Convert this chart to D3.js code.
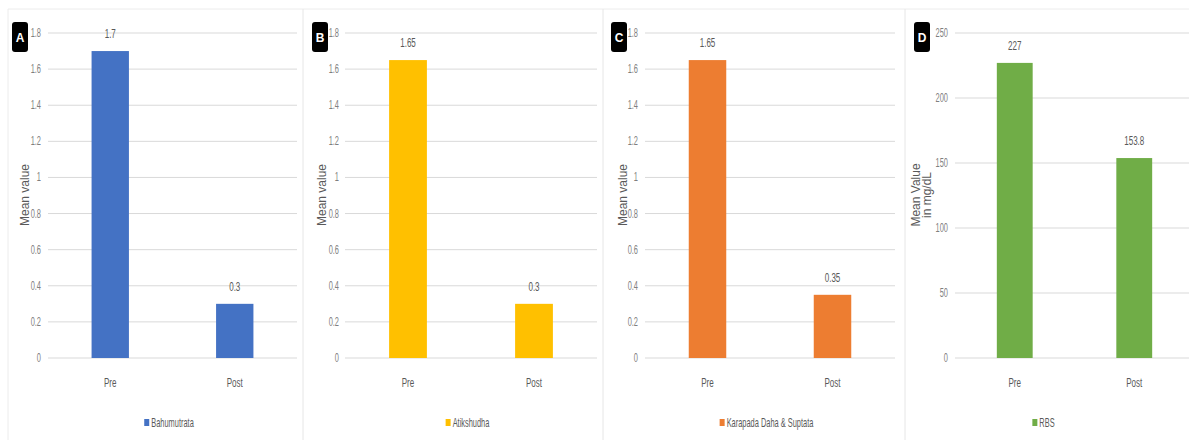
<!DOCTYPE html>
<html>
<head>
<meta charset="utf-8">
<script src="https://cdn.jsdelivr.net/npm/d3@7"></script>
<style>
  body { margin: 0; background: #fff; }
  svg { display: block; font-family: "Liberation Sans", Arial, sans-serif; }
</style>
</head>
<body>
<svg id="chart" width="1189" height="445"></svg>
<script>
// data
const categories = ["Pre", "Post"];
const panelLetters = ["A", "B", "C", "D"];
const seriesNames = ["Bahumutrata", "Atikshudha", "Karapada Daha & Suptata", "RBS"];
const valuesA = [1.7, 0.3];
const valuesB = [1.65, 0.3];
const valuesC = [1.65, 0.35];
const valuesD = [227, 153.8];
const ticksSmall = [0, 0.2, 0.4, 0.6, 0.8, 1, 1.2, 1.4, 1.6, 1.8];
const ticksRbs = [0, 50, 100, 150, 200, 250];
const labelsA = ["1.7", "0.3"];
const labelsB = ["1.65", "0.3"];
const labelsC = ["1.65", "0.35"];
const labelsD = ["227", "153.8"];
const yTitles = [["Mean value"], ["Mean value"], ["Mean value"], ["Mean Value", "in mg/dL"]];
const colors = ["#4472c4", "#ffc000", "#ed7d31", "#70ad47"];

const svg = d3.select("#chart");
const plotTop = 33, plotBottom = 358;
const narrow = "scale(0.62,1)";

// frame lines
svg.append("line").attr("x1", 8).attr("x2", 1189).attr("y1", 9).attr("y2", 9)
  .attr("stroke", "#ececec");
svg.append("line").attr("x1", 8).attr("x2", 8).attr("y1", 9).attr("y2", 440)
  .attr("stroke", "#ececec");
[303, 603, 905].forEach(x => {
  svg.append("line").attr("x1", x).attr("x2", x).attr("y1", 9).attr("y2", 440)
    .attr("stroke", "#e6e6e6");
});

const panels = [
  { x0: 48, x1: 297, tickX: 41, titleX: 25, boxX: 12, values: valuesA, labels: labelsA, ticks: ticksSmall, max: 1.8 },
  { x0: 345, x1: 597, tickX: 339, titleX: 322, boxX: 312, values: valuesB, labels: labelsB, ticks: ticksSmall, max: 1.8 },
  { x0: 645, x1: 895, tickX: 638, titleX: 623, boxX: 611, values: valuesC, labels: labelsC, ticks: ticksSmall, max: 1.8 },
  { x0: 955, x1: 1194, tickX: 948, titleX: 920, boxX: 914, values: valuesD, labels: labelsD, ticks: ticksRbs, max: 250 }
];

panels.forEach((p, i) => {
  const g = svg.append("g");
  const x = d3.scaleBand().domain(categories).range([p.x0, p.x1]).paddingInner(0.7).paddingOuter(0.35);
  const y = d3.scaleLinear().domain([0, p.max]).range([plotBottom, plotTop]);

  // gridlines
  g.selectAll(".grid").data(p.ticks).join("line")
    .attr("x1", p.x0).attr("x2", p.x1)
    .attr("y1", d => y(d)).attr("y2", d => y(d))
    .attr("stroke", "#d9d9d9").attr("stroke-width", 1);

  // tick labels
  g.selectAll(".tick").data(p.ticks).join("text")
    .attr("transform", d => `translate(${p.tickX},${y(d) + 4}) ${narrow}`)
    .attr("text-anchor", "end")
    .attr("font-size", 12).attr("fill", "#7f7f7f")
    .text(d => d);

  // bars
  g.selectAll(".bar").data(p.values).join("rect")
    .attr("x", (d, j) => x(categories[j]))
    .attr("width", x.bandwidth())
    .attr("y", d => y(d))
    .attr("height", d => plotBottom - y(d))
    .attr("fill", colors[i]);

  // value labels
  g.selectAll(".val").data(p.values).join("text")
    .attr("transform", (d, j) => `translate(${x(categories[j]) + x.bandwidth() / 2},${y(d) - 13}) ${narrow}`)
    .attr("text-anchor", "middle")
    .attr("font-size", 13).attr("fill", "#595959")
    .text((d, j) => p.labels[j]);

  // category labels
  g.selectAll(".cat").data(categories).join("text")
    .attr("transform", d => `translate(${x(d) + x.bandwidth() / 2},${387}) ${narrow}`)
    .attr("text-anchor", "middle")
    .attr("font-size", 13).attr("fill", "#595959")
    .text(d => d);

  // y title
  const lines = yTitles[i];
  const t = g.append("text")
    .attr("transform", `translate(${p.titleX},195) rotate(-90)`)
    .attr("text-anchor", "middle")
    .attr("font-size", 12).attr("fill", "#595959");
  lines.forEach((l, k) => {
    t.append("tspan").attr("x", 0).attr("dy", k === 0 ? (lines.length > 1 ? 0 : 4) : 11).text(l);
  });

  // legend
  const cx = (p.x0 + Math.min(p.x1, 1189)) / 2 + (i === 3 ? -25 : 0);
  const lg = g.append("g").attr("transform", `translate(${cx},${427})`);
  const lt = lg.append("text")
    .attr("transform", narrow)
    .attr("text-anchor", "middle")
    .attr("font-size", 12).attr("fill", "#595959")
    .text(seriesNames[i]);
  const w = lt.node().getComputedTextLength() * 0.62;
  lg.append("rect").attr("x", -w / 2 - 7).attr("y", -8).attr("width", 5).attr("height", 7)
    .attr("fill", colors[i]);

  // panel letter box
  svg.append("rect").attr("x", p.boxX).attr("y", 22).attr("width", 16).attr("height", 30)
    .attr("rx", 3).attr("fill", "#000");
  svg.append("text").attr("x", p.boxX + 8).attr("y", 42)
    .attr("text-anchor", "middle").attr("font-size", 12).attr("font-weight", "bold")
    .attr("fill", "#fff").text(panelLetters[i]);
});
</script>
</body>
</html>
